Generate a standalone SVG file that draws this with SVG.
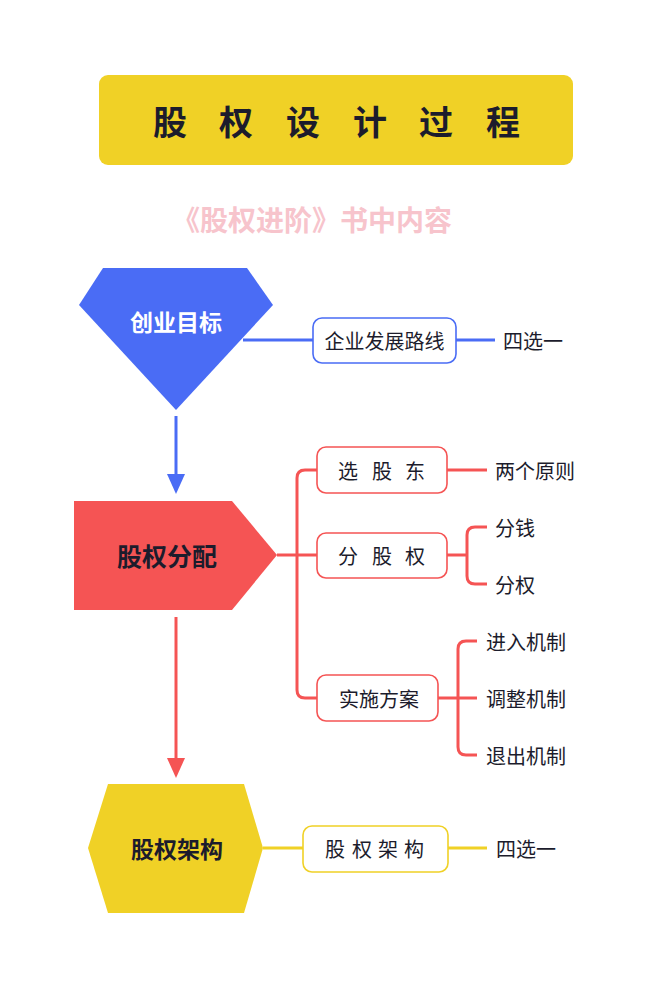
<svg xmlns="http://www.w3.org/2000/svg" width="660" height="988" viewBox="0 0 660 988">
<style>
text{font-family:"Noto Sans CJK SC","Noto Sans",sans-serif;fill:#1c1c2c;dominant-baseline:central}
.b{font-weight:bold}
.lb{font-size:20px}
.leaf{font-size:20px}
.blue{stroke:#4a6cf5;fill:none;stroke-width:3}
.red{stroke:#f55454;fill:none;stroke-width:3}
.yel{stroke:#f0d126;fill:none;stroke-width:3}
.box{fill:#fff;stroke-width:1.6}
</style>
<rect width="660" height="988" fill="#fff"/>
<g id="title">
<rect x="99" y="75" width="474" height="90" rx="9" fill="#f0d126"/>
<text class="b" font-size="34" text-anchor="middle" y="120" x="170 236 303 370 436 503">股权设计过程</text>
</g>
<g id="subtitle">
<text font-size="28" style="fill:#f7c4cc" x="312" y="219" text-anchor="middle" class="b">《股权进阶》书中内容</text>
</g>
<g id="connectors">
<path class="blue" d="M243 340 H313"/>
<path class="blue" d="M456 340 H495"/>
<path class="blue" d="M176 416 V476"/>
<path d="M167 474 L185 474 L176 494 Z" fill="#4a6cf5"/>
<path class="red" d="M277 555 H317"/>
<path class="red" d="M317 470 H305 Q297 470 297 478 V690 Q297 698 305 698 H317"/>
<path class="red" d="M447 470 H487"/>
<path class="red" d="M447 555 H467"/>
<path class="red" d="M487 527 H475 Q467 527 467 535 V576 Q467 584 475 584 H487"/>
<path class="red" d="M438 698 H477"/>
<path class="red" d="M477 641 H466 Q458 641 458 649 V747 Q458 755 466 755 H477"/>
<path class="red" d="M176 617 V760"/>
<path d="M167 758 L185 758 L176 778 Z" fill="#f55454"/>
<path class="yel" d="M263 848 H303"/>
<path class="yel" d="M448 848 H487"/>
</g>
<g id="n-goal">
<path d="M103 268 H247 L273 305 L176 410 L79 305 Z" fill="#4a6cf5"/>
<text class="b" font-size="23" x="176" y="321" text-anchor="middle" style="fill:#fff">创业目标</text>
</g>
<g id="n-route">
<rect class="box" x="313" y="318" width="143" height="45" rx="9" stroke="#4a6cf5"/>
<text class="lb" x="384.5" y="340" text-anchor="middle">企业发展路线</text>
</g>
<g id="n-route-leaf"><text class="leaf" x="503" y="340">四选一</text></g>
<g id="n-alloc">
<path d="M74 501 H232 L277 555 L232 610 H74 Z" fill="#f55454"/>
<text class="b" font-size="25" x="167" y="555" text-anchor="middle">股权分配</text>
</g>
<g id="n-select">
<rect class="box" x="317" y="447" width="130" height="46" rx="9" stroke="#f55454"/>
<text class="lb" y="470" text-anchor="middle" x="348 382 415">选股东</text>
</g>
<g id="n-select-leaf"><text class="leaf" x="495" y="470">两个原则</text></g>
<g id="n-split">
<rect class="box" x="317" y="533" width="130" height="45" rx="9" stroke="#f55454"/>
<text class="lb" y="555" text-anchor="middle" x="348 382 415">分股权</text>
</g>
<g id="n-money"><text class="leaf" x="495" y="527">分钱</text></g>
<g id="n-power"><text class="leaf" x="495" y="584">分权</text></g>
<g id="n-plan">
<rect class="box" x="317" y="675" width="121" height="46" rx="9" stroke="#f55454"/>
<text class="lb" x="379" y="698" text-anchor="middle">实施方案</text>
</g>
<g id="n-in"><text class="leaf" x="486" y="641">进入机制</text></g>
<g id="n-adj"><text class="leaf" x="486" y="698">调整机制</text></g>
<g id="n-out"><text class="leaf" x="486" y="755">退出机制</text></g>
<g id="n-struct">
<path d="M108 784 H244 L263 848 L244 913 H108 L88 848 Z" fill="#f0d126"/>
<text class="b" font-size="23" x="177" y="848" text-anchor="middle">股权架构</text>
</g>
<g id="n-struct-box">
<rect class="box" x="303" y="826" width="145" height="46" rx="9" stroke="#f0d126"/>
<text class="lb" y="848" text-anchor="middle" x="335 362 388 414">股权架构</text>
</g>
<g id="n-struct-leaf"><text class="leaf" x="496" y="848">四选一</text></g>
</svg>
